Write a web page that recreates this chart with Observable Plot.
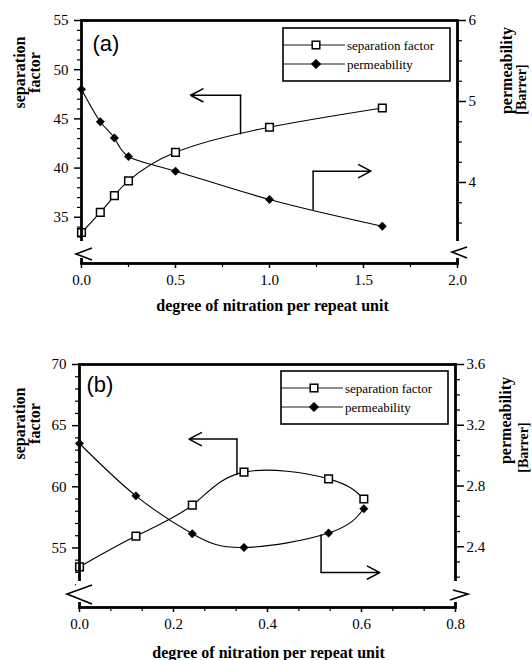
<!DOCTYPE html>
<html><head><meta charset="utf-8">
<script src="https://cdn.jsdelivr.net/npm/d3@7"></script>
<script src="https://cdn.jsdelivr.net/npm/@observablehq/plot@0.6"></script>
<style>
body{margin:0;background:#fff;width:532px;height:660px;overflow:hidden}
svg{display:block}
</style></head><body><div id="a"></div><div id="b"></div>
<script>
// ---------- data: panel (a) ----------
const xA = [0, 0.1, 0.175, 0.25, 0.5, 1.0, 1.6];
const sepA = [33.45, 35.5, 37.2, 38.7, 41.6, 44.15, 46.1];
const permA = [5.15, 4.75, 4.55, 4.32, 4.14, 3.79, 3.46];
const xTicksA = [0, 0.5, 1.0, 1.5, 2.0];
const xMinorA = [0.25, 0.75, 1.25, 1.75];
const leftTicksA = [35, 40, 45, 50, 55];
const leftMinorA = [33, 34, 36, 37, 38, 39, 41, 42, 43, 44, 46, 47, 48, 49, 51, 52, 53, 54];
const rightTicksA = [4, 5, 6];
const rightMinorA = [3.5, 3.75, 4.25, 4.5, 4.75, 5.25, 5.5, 5.75];
const arrowSepA = [[0.846, 43.5], [0.846, 47.4], [0.58, 47.4]];
const arrowPermA = [[1.232, 3.67], [1.232, 4.14], [1.54, 4.14]];

// ---------- data: panel (b) ----------
const xB = [0, 0.12, 0.24, 0.35, 0.53, 0.605];
const sepB = [53.45, 55.97, 58.5, 61.2, 60.65, 59.0];
const permB = [3.08, 2.735, 2.485, 2.395, 2.49, 2.65];
const xTicksB = [0, 0.2, 0.4, 0.6, 0.8];
const xMinorB = [0.0667, 0.1333, 0.2667, 0.3333, 0.4667, 0.5333, 0.6667, 0.7333];
const leftTicksB = [55, 60, 65, 70];
const leftMinorB = [52, 53, 54, 56, 57, 58, 59, 61, 62, 63, 64, 66, 67, 68, 69];
const rightTicksB = [2.4, 2.8, 3.2, 3.6];
const rightMinorB = [2.2, 2.3, 2.5, 2.6, 2.7, 2.9, 3.0, 3.1, 3.3, 3.4, 3.5];
const arrowSepB = [[0.335, 61.0], [0.335, 63.9], [0.233, 63.9]];
const arrowPermB = [[0.514, 2.478], [0.514, 2.23], [0.639, 2.23]];

// ---------- texts ----------
const seriesNames = ["separation factor", "permeability"];
const xTitle = "degree of nitration per repeat unit";
const leftTitle = "separation\nfactor";
const rightTitle = "permeability";
const rightUnit = "[Barrer]";

const W = 532;
const serif = "'Liberation Serif', 'Times New Roman', serif";

function makePanel(c) {
  const toY = p => c.yDom[0] + (p - c.pDom[0]) * (c.yDom[1] - c.yDom[0]) / (c.pDom[1] - c.pDom[0]);
  const fromY = y => c.pDom[0] + (y - c.yDom[0]) * (c.pDom[1] - c.pDom[0]) / (c.yDom[1] - c.yDom[0]);
  const sepData = c.x.map((v, i) => ({x: v, y: c.sep[i]}));
  const permData = c.x.map((v, i) => ({x: v, y: toY(c.perm[i])}));
  const aSep = c.arrowSep.map(([a, b]) => ({x: a, y: b}));
  const aPerm = c.arrowPerm.map(([a, b]) => ({x: a, y: toY(b)}));
  const arrowHeads = [aSep, aPerm].map(p => ({x1: p[1].x, y1: p[1].y, x2: p[2].x, y2: p[2].y}));
  const m = c.margin;
  const L = m.left, R = W - m.right, T = m.top, B = c.height - m.bottom;
  const fmt = d3.format(c.pFmt);

  const deco = () => {
    const g = d3.create("svg:g").attr("fill", "none").attr("stroke", "black");
    // axis breaks
    g.append("rect").attr("x", L - 3).attr("y", B - c.brk.lg[0]).attr("width", 6).attr("height", c.brk.lg[0] - c.brk.lg[1]).attr("fill", "white").attr("stroke", "none");
    g.append("rect").attr("x", R - 3).attr("y", B - c.brk.rg[0]).attr("width", 6).attr("height", c.brk.rg[0] - c.brk.rg[1]).attr("fill", "white").attr("stroke", "none");
    g.append("path").attr("stroke-width", 1.6).attr("d", "M" + c.brk.lp.map(([dx, dy]) => `${L + dx},${B + dy}`).join("L"));
    g.append("path").attr("stroke-width", 1.6).attr("d", "M" + c.brk.rp.map(([dx, dy]) => `${R + dx},${B + dy}`).join("L"));
    // legend
    const bx = R - 174, by = T + c.lgTop, bw = 167, bh = 53;
    g.append("rect").attr("x", bx).attr("y", by).attr("width", bw).attr("height", bh).attr("fill", "white").attr("stroke-width", 1.6);
    seriesNames.forEach((name, i) => {
      const yy = by + 17 + i * 19;
      g.append("line").attr("x1", bx).attr("x2", bx + 62).attr("y1", yy).attr("y2", yy).attr("stroke-width", 0.9);
      if (i === 0) g.append("rect").attr("x", bx + 33 - 3.8).attr("y", yy - 3.8).attr("width", 7.6).attr("height", 7.6).attr("fill", "white").attr("stroke-width", 1.5);
      else g.append("path").attr("d", `M${bx + 33},${yy - 4.6}L${bx + 37.6},${yy}L${bx + 33},${yy + 4.6}L${bx + 28.4},${yy}Z`).attr("fill", "black");
      g.append("text").attr("x", bx + 64).attr("y", yy).attr("dy", "0.35em").attr("fill", "black").attr("stroke", "none")
        .attr("text-anchor", "start").attr("font-family", serif).attr("font-size", 13).text(name);
    });
    return g.node();
  };

  const ax = {label: null, fontFamily: serif, fontSize: 15};
  return Plot.plot({
    width: W, height: c.height,
    marginLeft: m.left, marginRight: m.right, marginTop: m.top, marginBottom: m.bottom,
    style: {fontFamily: serif, fontSize: "15px", color: "black", background: "white", overflow: "visible"},
    x: {domain: c.xDom, label: null},
    y: {domain: c.yDom, label: null},
    marks: [
      Plot.axisX({...ax, ticks: c.xTicks, tickFormat: d3.format(".1f"), tickSize: 5, tickPadding: 6, strokeWidth: 1.5}),
      Plot.axisX({...ax, ticks: c.xMinor, tickFormat: () => "", tickSize: 4, strokeWidth: 1.2}),
      Plot.axisY({...ax, anchor: "left", ticks: c.leftTicks, tickSize: 7, tickPadding: 6, strokeWidth: 1.5}),
      Plot.axisY({...ax, anchor: "left", ticks: c.leftMinor, tickFormat: () => "", tickSize: 4, strokeWidth: 1.2}),
      Plot.axisY({...ax, anchor: "right", ticks: c.rightTicks.map(toY), tickFormat: y => fmt(fromY(y)), tickSize: 8, tickPadding: 3, strokeWidth: 1.5}),
      Plot.axisY({...ax, anchor: "right", ticks: c.rightMinor.map(toY), tickFormat: () => "", tickSize: 4, strokeWidth: 1.2}),
      Plot.line(sepData, {x: "x", y: "y", curve: "natural", stroke: "black", strokeWidth: 1.1}),
      Plot.line(permData, {x: "x", y: "y", curve: "natural", stroke: "black", strokeWidth: 1.1}),
      Plot.line(aSep.slice(0, 2), {x: "x", y: "y", stroke: "black", strokeWidth: 1.5}),
      Plot.line(aPerm.slice(0, 2), {x: "x", y: "y", stroke: "black", strokeWidth: 1.5}),
      Plot.arrow(arrowHeads, {x1: "x1", y1: "y1", x2: "x2", y2: "y2", stroke: "black", strokeWidth: 1.5, headLength: 14, headAngle: 55}),
      Plot.dot(sepData, {x: "x", y: "y", symbol: "square", r: 4.3, fill: "white", stroke: "black", strokeWidth: 1.5}),
      Plot.dot(permData, {x: "x", y: "y", symbol: "diamond2", r: 3.8, fill: "black", stroke: "black", strokeWidth: 0.5}),
      Plot.frame({stroke: "black", strokeWidth: 2.8}),
      deco,
      Plot.text([c.tag], {text: d => d, frameAnchor: "top-left", dx: c.tagPos[0], dy: c.tagPos[1], textAnchor: "start", lineAnchor: "middle", fontFamily: "'Liberation Sans', Arial, sans-serif", fontSize: 22}),
      Plot.text([leftTitle], {text: d => d, frameAnchor: "top-left", dx: c.leftTitlePos[0], dy: c.leftTitlePos[1], rotate: -90, textAnchor: "middle", lineAnchor: "middle", fontFamily: serif, fontSize: 16, fontWeight: "bold", lineHeight: 0.95}),
      Plot.text([rightTitle], {text: d => d, frameAnchor: "top-right", dx: c.permPos[0], dy: c.permPos[1], rotate: -90, textAnchor: "middle", lineAnchor: "middle", fontFamily: serif, fontSize: 16, fontWeight: "bold"}),
      Plot.text([rightUnit], {text: d => d, frameAnchor: "top-right", dx: c.unitPos[0], dy: c.unitPos[1], rotate: -90, textAnchor: "middle", lineAnchor: "middle", fontFamily: serif, fontSize: 14, fontWeight: "bold"}),
      Plot.text([xTitle], {text: d => d, frameAnchor: "bottom", dx: c.xTitlePos[0], dy: c.xTitlePos[1], textAnchor: "middle", lineAnchor: "middle", fontFamily: serif, fontSize: 16, fontWeight: "bold"})
    ]
  });
}

document.getElementById("a").append(makePanel({
  height: 325, margin: {top: 20, bottom: 62, left: 81, right: 75},
  xDom: [0, 2], yDom: [30.3, 55], pDom: [3, 6], pFmt: ".0f",
  x: xA, sep: sepA, perm: permA,
  xTicks: xTicksA, xMinor: xMinorA, leftTicks: leftTicksA, leftMinor: leftMinorA,
  rightTicks: rightTicksA, rightMinor: rightMinorA,
  arrowSep: arrowSepA, arrowPerm: arrowPermA,
  tag: "(a)", tagPos: [11, 23], leftTitlePos: [-54, 52], permPos: [49, 50], unitPos: [64, 69], xTitlePos: [3, 42],
  lgTop: 8,
  brk: {lg: [22, 5], rg: [22, 5], lp: [[11, -15], [-5, -9], [11, -3]], rp: [[10, -16], [-5, -11], [10, -5]]}
}));

document.getElementById("b").append(makePanel({
  height: 335, margin: {top: 39, bottom: 53, left: 79, right: 77},
  xDom: [0, 0.8], yDom: [50.13, 70], pDom: [2.0, 3.6], pFmt: ".1f",
  x: xB, sep: sepB, perm: permB,
  xTicks: xTicksB, xMinor: xMinorB, leftTicks: leftTicksB, leftMinor: leftMinorB,
  rightTicks: rightTicksB, rightMinor: rightMinorB,
  arrowSep: arrowSepB, arrowPerm: arrowPermB,
  tag: "(b)", tagPos: [7, 20], leftTitlePos: [-52, 59], permPos: [50, 56], unitPos: [68, 83], xTitlePos: [1, 45],
  lgTop: 7,
  brk: {lg: [26, 5], rg: [26, 5], lp: [[13, -22], [-12, -13], [13, -3]], rp: [[-2, -17], [13, -13], [-5, -7]]}
}));
</script>
</body></html>
